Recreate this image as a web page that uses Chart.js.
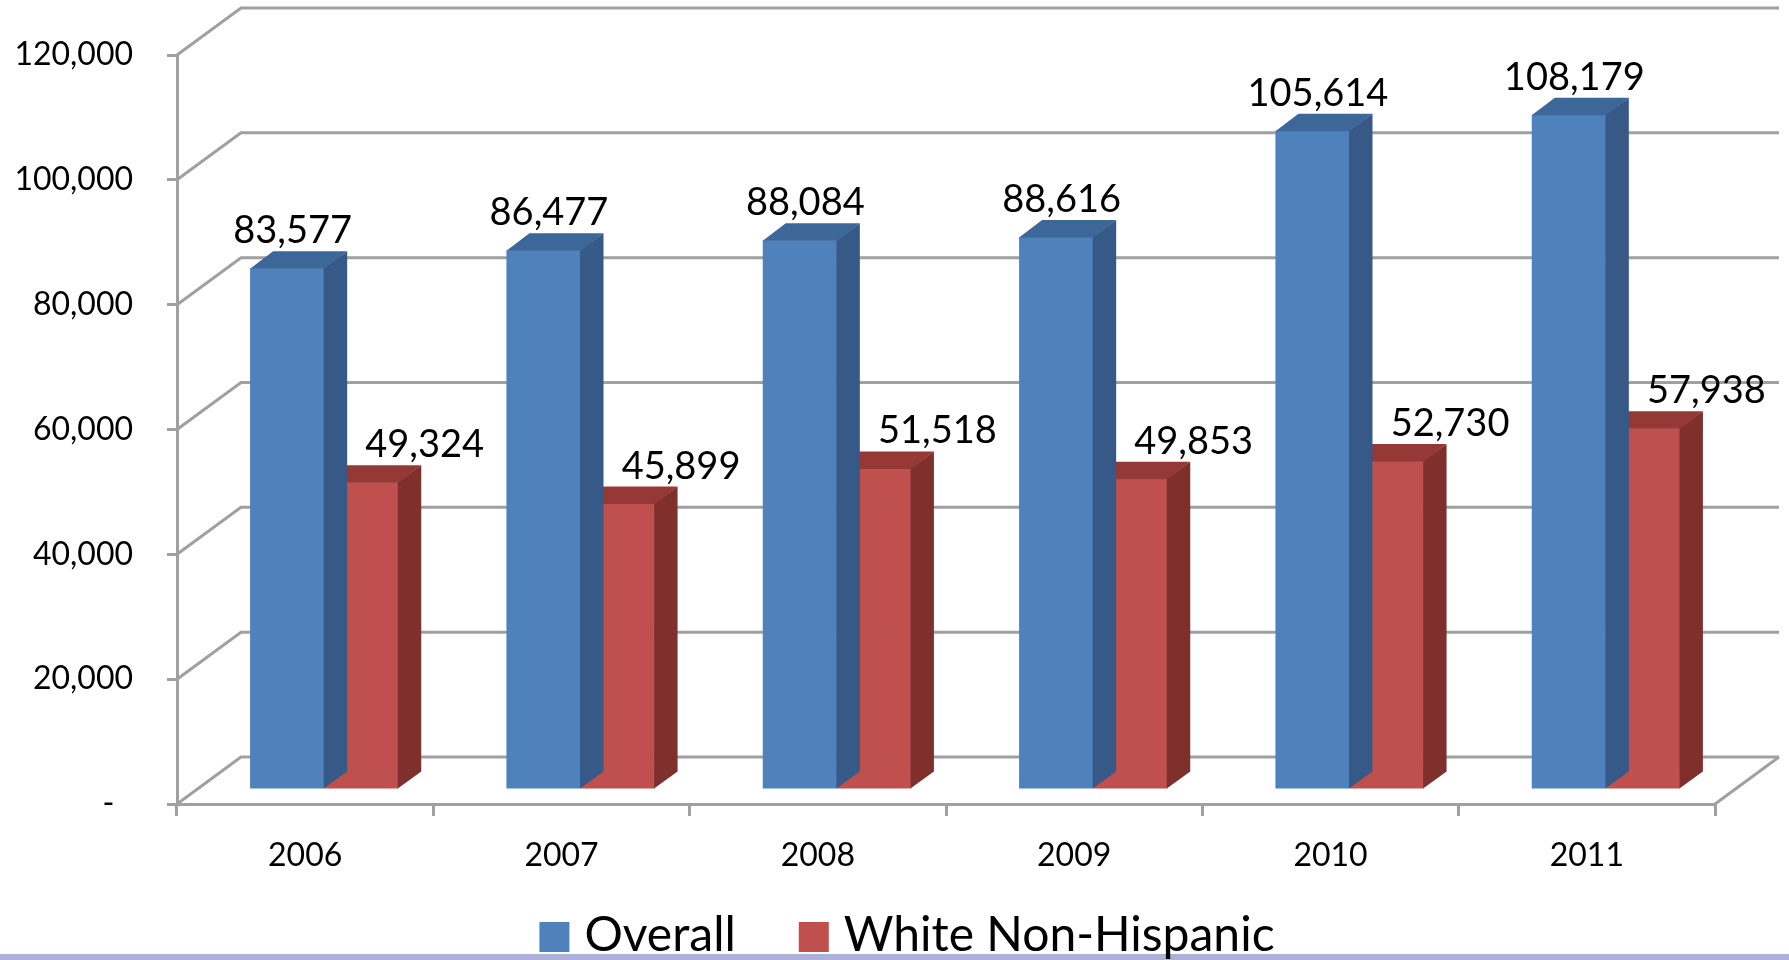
<!DOCTYPE html>
<html>
<head>
<meta charset="utf-8">
<script src="https://cdn.jsdelivr.net/npm/chart.js@4.4.0/dist/chart.umd.min.js"></script>
<style>
  html, body { margin: 0; padding: 0; background: #fff; overflow: hidden; }
  #wrap { position: relative; width: 1789px; height: 960px; }
  #strip { position: absolute; left: 0; top: 954px; width: 1789px; height: 6px; background: #adb0d8; }
  #myChart { position: absolute; left: 0; top: 0; }
</style>
</head>
<body>
<div id="wrap">
  <div id="strip"></div>
  <canvas id="myChart" width="1789" height="960"></canvas>
</div>
<script>
// chart data
var years = ['2006', '2007', '2008', '2009', '2010', '2011'];
var overall = [83577, 86477, 88084, 88616, 105614, 108179];
var whiteNonHispanic = [49324, 45899, 51518, 49853, 52730, 57938];
var yMax = 120000;
var yStep = 20000;

// fake 3d geometry (pixels)
var WALL = { dx: 64, dy: -47 };   // back wall offset
var SHIFT = { dx: 19, dy: -14 };  // bars sit a bit back from the front plane
var DEPTH = { dx: 23, dy: -17 };  // bar thickness
var LINE = '#a0a0a0';

function fmt(v) {
    return v.toLocaleString('en-US');
}

var box3d = {
    id: 'box3d',
    beforeDatasetsDraw: function(chart) {
        var ctx = chart.ctx, a = chart.chartArea, y = chart.scales.y;
        ctx.save();
        ctx.strokeStyle = LINE;
        ctx.lineWidth = 3;
        y.ticks.forEach(function(t) {
            var py = y.getPixelForValue(t.value);
            ctx.beginPath();
            ctx.moveTo(a.left, py);
            ctx.lineTo(a.left + WALL.dx, py + WALL.dy);
            ctx.lineTo(a.right + WALL.dx, py + WALL.dy);
            ctx.stroke();
        });
        // right edge of the floor
        ctx.beginPath();
        ctx.moveTo(a.right, a.bottom);
        ctx.lineTo(a.right + WALL.dx, a.bottom + WALL.dy);
        ctx.stroke();
        ctx.restore();
    },
    beforeDatasetDraw: function(chart) {
        chart.ctx.save();
        chart.ctx.translate(SHIFT.dx, SHIFT.dy);
    },
    afterDatasetDraw: function(chart, args) {
        var ctx = chart.ctx;
        var ds = chart.data.datasets[args.index];
        args.meta.data.forEach(function(bar) {
            var p = bar.getProps(['x', 'y', 'base', 'width'], true);
            var l = p.x - p.width / 2, r = p.x + p.width / 2;
            // side face
            ctx.fillStyle = ds.sideColor;
            ctx.beginPath();
            ctx.moveTo(r - 0.5, p.y);
            ctx.lineTo(r + DEPTH.dx, p.y + DEPTH.dy);
            ctx.lineTo(r + DEPTH.dx, p.base + DEPTH.dy);
            ctx.lineTo(r - 0.5, p.base);
            ctx.closePath();
            ctx.fill();
            // top face
            ctx.fillStyle = ds.topColor;
            ctx.beginPath();
            ctx.moveTo(l, p.y + 0.5);
            ctx.lineTo(l + DEPTH.dx, p.y + DEPTH.dy);
            ctx.lineTo(r + DEPTH.dx, p.y + DEPTH.dy);
            ctx.lineTo(r, p.y + 0.5);
            ctx.closePath();
            ctx.fill();
        });
        ctx.restore();
    },
    afterDatasetsDraw: function(chart) {
        var ctx = chart.ctx;
        ctx.save();
        ctx.font = '38px Lato';
        ctx.fillStyle = '#000';
        ctx.textAlign = 'center';
        ctx.textBaseline = 'alphabetic';
        chart.data.datasets.forEach(function(ds, i) {
            chart.getDatasetMeta(i).data.forEach(function(bar, j) {
                var p = bar.getProps(['x', 'y'], true);
                var tx = p.x + SHIFT.dx + DEPTH.dx / 2 + ds.labelShift;
                var ty = p.y + SHIFT.dy + DEPTH.dy - 8;
                ctx.fillText(fmt(ds.data[j]), tx, ty);
            });
        });
        ctx.restore();
    },
    // legend drawn by hand so it can sit under the axis labels
    afterDraw: function(chart) {
        var ctx = chart.ctx;
        var box = 30, gap = 15, between = 63, centerX = 907, boxTop = 922, baseline = 951;
        ctx.save();
        ctx.font = '48px Lato';
        ctx.textBaseline = 'alphabetic';
        ctx.textAlign = 'left';
        var items = chart.data.datasets.map(function(ds) {
            return { text: ds.label, color: ds.backgroundColor, w: ctx.measureText(ds.label).width };
        });
        var total = 0;
        items.forEach(function(it, i) {
            total += box + gap + it.w + (i > 0 ? between : 0);
        });
        var x = centerX - total / 2;
        items.forEach(function(it) {
            ctx.fillStyle = it.color;
            ctx.fillRect(x, boxTop, box, box);
            ctx.fillStyle = '#000';
            ctx.fillText(it.text, x + box + gap, baseline);
            x += box + gap + it.w + between;
        });
        ctx.restore();
    }
};

var ctx = document.getElementById('myChart').getContext('2d');
Chart.defaults.font.family = 'Lato';
Chart.defaults.color = '#000';

var myChart = new Chart(ctx, {
    type: 'bar',
    data: {
        labels: years,
        datasets: [{
            label: 'Overall',
            data: overall,
            backgroundColor: '#4f81bd',
            sideColor: '#365987',
            topColor: '#3d6798',
            labelShift: -6,
            borderWidth: 0,
            categoryPercentage: 0.578,
            barPercentage: 1,
            clip: false
        }, {
            label: 'White Non-Hispanic',
            data: whiteNonHispanic,
            backgroundColor: '#c0504d',
            sideColor: '#7f302d',
            topColor: '#943936',
            labelShift: 52,
            borderWidth: 0,
            categoryPercentage: 0.578,
            barPercentage: 1,
            clip: false
        }]
    },
    options: {
        responsive: false,
        animation: false,
        devicePixelRatio: 1,
        layout: {
            padding: { left: 0, right: 74, top: 55, bottom: 0 }
        },
        plugins: {
            legend: { display: false },
            tooltip: { enabled: false }
        },
        scales: {
            x: {
                afterFit: function(scale) { scale.height = 156; },
                grid: {
                    offset: true,
                    drawOnChartArea: false,
                    tickLength: 12,
                    color: LINE,
                    lineWidth: 3
                },
                border: { display: true, color: LINE, width: 3 },
                ticks: { font: { size: 32 }, padding: 20, color: '#000' }
            },
            y: {
                min: 0,
                max: yMax,
                afterFit: function(scale) { scale.width = 177; },
                grid: {
                    drawOnChartArea: false,
                    tickLength: 10,
                    color: LINE,
                    lineWidth: 3
                },
                border: { display: true, color: LINE, width: 3 },
                ticks: {
                    stepSize: yStep,
                    padding: 34,
                    font: { size: 32 },
                    color: '#000',
                    callback: function(v) { return v === 0 ? '-\u2007' : fmt(v); }
                }
            }
        }
    },
    plugins: [box3d]
});
</script>
</body>
</html>
